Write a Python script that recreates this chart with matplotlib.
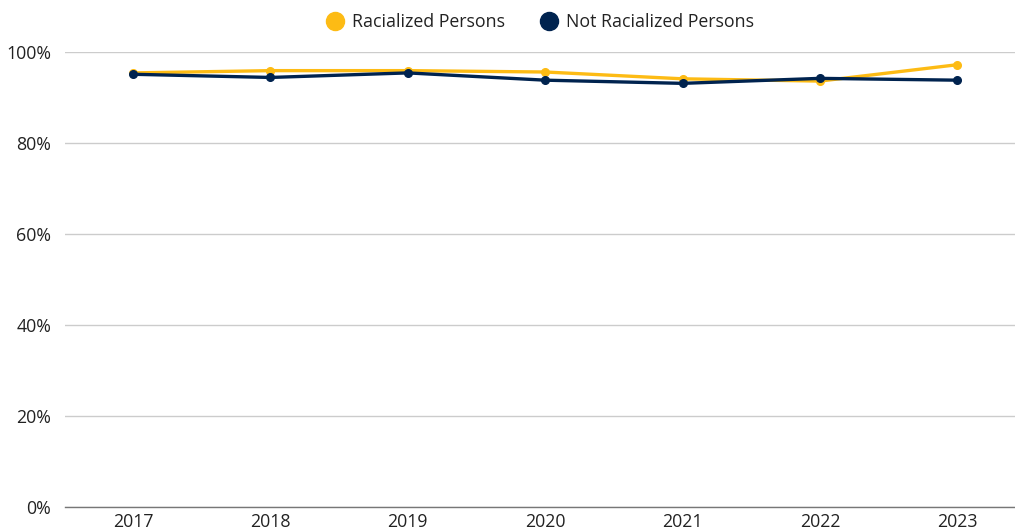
import matplotlib.pyplot as plt
from matplotlib.lines import Line2D

years = ["2017", "2018", "2019", "2020", "2021", "2022", "2023"]
racialized = [95.4, 95.9, 95.9, 95.6, 94.1, 93.6, 97.2]
not_racialized = [95.1, 94.4, 95.4, 93.8, 93.1, 94.2, 93.8]

yellow = "#FDBB14"
navy = "#00234F"

plt.rcParams['font.family'] = ['Open Sans', 'DejaVu Sans']

fig = plt.figure(figsize=(10.15, 5.31), dpi=100)
ax = fig.add_axes([65 / 1015, 24.5 / 531, 950 / 1015, 454.5 / 531])

x = range(len(years))
ax.plot(x, racialized, color=yellow, lw=2.4, marker="o", ms=5.5, zorder=3, clip_on=False)
ax.plot(x, not_racialized, color=navy, lw=2.4, marker="o", ms=5.5, zorder=4, clip_on=False)

ax.set_xlim(-0.495, 6.42)
ax.set_ylim(0, 100)
ax.set_yticks([0, 20, 40, 60, 80, 100])
ax.set_yticklabels([f"{v}%" for v in [0, 20, 40, 60, 80, 100]])
ax.set_xticks(list(x))
ax.set_xticklabels(years)
ax.tick_params(axis="both", length=0, labelsize=12.8, colors="#222222")
ax.tick_params(axis="y", pad=10)
ax.tick_params(axis="x", pad=5)
ax.grid(axis="y", color="#cccccc", lw=1)
ax.set_axisbelow(True)
for s in ["left", "right", "top"]:
    ax.spines[s].set_visible(False)
ax.spines["bottom"].set_color("#777777")
ax.spines["bottom"].set_linewidth(1)

handles = [
    Line2D([], [], ls="none", marker="o", ms=13, color=yellow, label="Racialized Persons"),
    Line2D([], [], ls="none", marker="o", ms=13, color=navy, label="Not Racialized Persons"),
]
fig.legend(handles=handles, loc="center", bbox_to_anchor=(540 / 1015, 1 - 22 / 531),
           ncol=2, frameon=False, fontsize=12.8, handletextpad=0.45, columnspacing=2.0,
           handlelength=1.0, labelcolor="#222222", borderpad=0)

fig.savefig("out.png", dpi=100)
